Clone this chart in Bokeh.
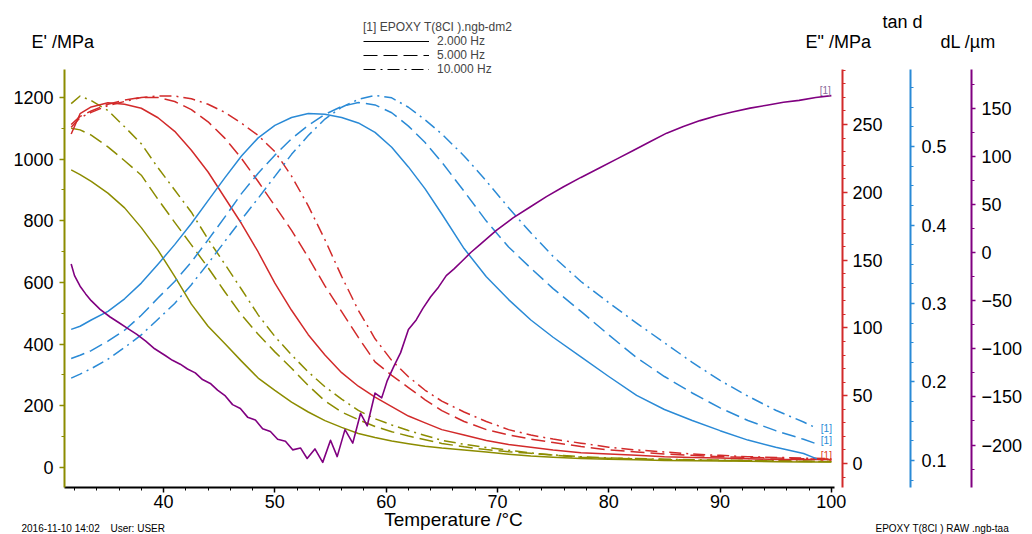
from bokeh.plotting import figure
from bokeh.layouts import column
from bokeh.models import Range1d, LinearAxis, FixedTicker, Label, Legend, LegendItem
from bokeh.embed import file_html
from bokeh.resources import INLINE

# ---------------- data ----------------
T = [31.7, 32.5, 33.5, 35, 36.5, 38, 39.5, 41, 42.5, 44, 45.5, 47, 48.5, 50, 51.5,
     53, 54.5, 56, 57.5, 59, 60.5, 62, 63.5, 65, 67, 69, 71, 73, 75, 77.5, 80,
     82.5, 85, 87.5, 90, 92.5, 95, 97.5, 100]
T_tan = [31.7, 32.5, 33.5, 35, 36.5, 38, 39.5, 41, 42.5, 44, 45.5, 47, 48.5, 50, 51.5,
         53, 54.5, 56, 57.5, 59, 60.5, 62, 63.5, 65, 67, 69, 71, 73, 75, 77.5, 80,
         82.5, 85, 87.5, 90, 92.5, 95, 97.5, 98.7]

# E' /MPa
E1_2hz = [965, 950, 928, 890, 842, 778, 705, 620, 530, 458, 402, 345, 290, 250, 212,
          180, 152, 130, 110, 97, 86, 77, 69, 63, 57, 50, 43, 37, 33, 29, 27,
          25, 23, 22, 21, 20, 19, 18, 18]
E1_5hz = [1100, 1095, 1078, 1040, 995, 948, 870, 795, 722, 648, 570, 495, 432, 375, 322,
          266, 216, 180, 155, 133, 116, 102, 90, 78, 67, 58, 51, 46, 40, 33, 30,
          28, 26, 24, 23, 22, 21, 20, 19]
E1_10hz = [1180, 1205, 1190, 1158, 1105, 1050, 972, 900, 828, 740, 660, 578, 495, 425, 365,
           310, 262, 222, 185, 158, 138, 120, 104, 88, 75, 65, 56, 47, 41, 35, 31,
           29, 27, 25, 24, 23, 22, 21, 20]
# E'' /MPa
E2_2hz = [243, 258, 263, 266, 265, 262, 255, 245, 231, 215, 196, 177, 156, 133, 113,
          95, 80, 67, 57, 49, 42, 35, 30, 25, 21, 17, 14, 12, 10, 8, 7,
          6, 5, 4.5, 4, 3.5, 3, 3, 3]
E2_5hz = [250, 256, 260, 265, 268, 270, 270, 267, 261, 252, 240, 225, 208, 190, 172,
          152, 131, 112, 93, 75, 65, 56, 47, 39, 31, 25, 21, 18, 15.5, 12.5, 10,
          8.5, 7, 6, 5, 4.5, 4, 3.5, 3]
E2_10hz = [248, 255, 259, 264, 267, 270, 271, 271, 269, 265, 259, 251, 242, 230, 212,
           190, 165, 138, 113, 92, 76, 64, 54, 46, 38, 31, 25, 21, 18, 15, 12,
           10, 8.5, 7, 6, 5, 4.5, 4, 3.5]
# tan d
TAN_2hz = [0.267, 0.271, 0.279, 0.290, 0.306, 0.326, 0.350, 0.375, 0.402, 0.431, 0.460,
           0.488, 0.511, 0.527, 0.537, 0.542, 0.541, 0.537, 0.530, 0.518, 0.499, 0.474,
           0.446, 0.414, 0.370, 0.334, 0.305, 0.279, 0.257, 0.232, 0.207, 0.183, 0.165,
           0.151, 0.138, 0.126, 0.117, 0.109, 0.102]
TAN_5hz = [0.230, 0.234, 0.240, 0.252, 0.266, 0.285, 0.307, 0.328, 0.353, 0.381, 0.410,
           0.440, 0.466, 0.489, 0.510, 0.527, 0.541, 0.551, 0.556, 0.553, 0.543, 0.526,
           0.505, 0.480, 0.443, 0.405, 0.372, 0.345, 0.319, 0.290, 0.260, 0.231, 0.207,
           0.186, 0.167, 0.151, 0.138, 0.127, 0.121]
TAN_10hz = [0.205, 0.210, 0.217, 0.229, 0.244, 0.260, 0.280, 0.300, 0.324, 0.351, 0.379,
            0.407, 0.434, 0.462, 0.490, 0.514, 0.535, 0.550, 0.560, 0.565, 0.562, 0.550,
            0.534, 0.516, 0.488, 0.456, 0.422, 0.390, 0.360, 0.328, 0.301, 0.275, 0.250,
            0.225, 0.202, 0.182, 0.164, 0.149, 0.141]
# dL /um
T_dl = [31.7, 32.0, 32.5, 33.0, 33.5, 34.3, 35.2, 36.0, 36.8, 37.6, 38.4, 39.2, 40.15,
        40.8, 41.5, 42.15, 42.85, 43.5, 44.2, 44.85, 45.55, 46.2, 46.9, 47.55, 48.25,
        48.9, 49.6, 50.25, 50.95, 51.6, 52.3, 52.9, 53.6, 54.3, 55.0, 55.6, 56.3, 57.0,
        57.7, 58.3, 59.0, 59.6, 60.1, 60.7, 61.3, 62.0, 62.7, 63.3, 64.0, 64.7, 65.4,
        66.1, 66.9, 67.6, 68.4, 69.2, 69.9, 71.4, 72.9, 74.4, 75.9, 77.5, 79.2, 80.7,
        82.2, 83.7, 85.2, 86.7, 88.2, 89.7, 91.1, 92.7, 94.2, 95.7, 97.1, 98.6, 100.0]
DL = [-12, -24, -35, -43, -50, -59, -67, -73, -79, -85, -92, -100, -107,
      -112, -116, -121, -125, -132, -136, -143, -149, -158, -162, -171, -174,
      -183, -186, -194, -196, -205, -203, -214, -204, -218, -195, -212, -184, -198,
      -167, -180, -146, -151, -133, -118, -104, -80, -70, -58, -46, -36, -24,
      -17, -8, 0, 8, 16, 23, 36, 47, 58, 68, 78, 88, 97,
      106, 115, 124, 131, 137, 142, 146, 150, 153, 156, 158, 161, 163]

X_TICKS = [40, 50, 60, 70, 80, 90, 100]
EP_TICKS = [0, 200, 400, 600, 800, 1000, 1200]
EPP_TICKS = [0, 50, 100, 150, 200, 250]
TAN_TICKS = [0.1, 0.2, 0.3, 0.4, 0.5]
DL_TICKS = [-200, -150, -100, -50, 0, 50, 100, 150]
FREQ_LABELS = ["2.000 Hz", "5.000 Hz", "10.000 Hz"]
LEGEND_TITLE = "[1] EPOXY T(8CI ).ngb-dm2"

# ---------------- styling ----------------
FONT = "Liberation Sans"
OLIVE = "#8c8c00"
RED = "#d22a2a"
BLUE = "#2a8ad6"
PURPLE = "#800080"
DASHES = ["solid", "14 6", "12 5 2 5"]
TICK_FS = "18px"

W, H = 1032, 534
X0, X1 = 31.1, 101.0
EP0, EP1 = -64.9, 1290.8
EPP0, EPP1 = -17.7, 290.6
TAN0, TAN1 = 0.0656, 0.5981
DL0, DL1 = -244.1, 190.1

# frame in page px
FL, FR, FT, FB = 64, 842, 69, 487

p = figure(width=W, height=H, output_backend="svg", toolbar_location=None,
           x_range=Range1d(X0, X1), y_range=Range1d(EP0, EP1),
           min_border_left=FL, min_border_right=W - FR, min_border_top=FT,
           min_border_bottom=H - FB, outline_line_color=None,
           background_fill_color="white", border_fill_color="white")
p.frame_align = False
p.grid.visible = False
p.extra_y_ranges = {"epp": Range1d(EPP0, EPP1), "tan": Range1d(TAN0, TAN1),
                    "dl": Range1d(DL0, DL1)}


def style_axis(ax, color, tick_out=5, standoff=5):
    ax.axis_line_color = color
    ax.axis_line_width = 2
    ax.major_tick_line_color = color
    ax.minor_tick_line_color = color
    ax.major_tick_line_width = 1.5
    ax.minor_tick_line_width = 1
    ax.major_tick_in = 0
    ax.major_tick_out = tick_out
    ax.minor_tick_in = 0
    ax.minor_tick_out = 3
    ax.major_label_standoff = standoff
    ax.major_label_text_font = FONT
    ax.major_label_text_font_size = TICK_FS
    ax.major_label_text_color = "black"


def pad(ax, extra):
    ax.axis_label = " "
    ax.axis_label_text_font_size = "1px"
    ax.axis_label_standoff = extra


xa = p.xaxis[0]
xa.ticker = FixedTicker(ticks=X_TICKS, minor_ticks=list(range(32, 101, 2)))
style_axis(xa, "black", tick_out=5, standoff=2)
xa.bounds = (X0, 100.3)

ya = p.yaxis[0]
ya.ticker = FixedTicker(ticks=EP_TICKS, minor_ticks=list(range(0, 1300, 100)))
style_axis(ya, OLIVE, tick_out=5, standoff=6)

ax_epp = LinearAxis(y_range_name="epp",
                    ticker=FixedTicker(ticks=EPP_TICKS, minor_ticks=list(range(-10, 291, 10))))
style_axis(ax_epp, RED, tick_out=5, standoff=5)
pad(ax_epp, 21)
p.add_layout(ax_epp, "right")

ax_tan = LinearAxis(y_range_name="tan",
                    ticker=FixedTicker(ticks=TAN_TICKS,
                                       minor_ticks=[0.075 + 0.025 * i for i in range(21)]))
style_axis(ax_tan, BLUE, tick_out=4, standoff=7)
pad(ax_tan, 18)
p.add_layout(ax_tan, "right")

ax_dl = LinearAxis(y_range_name="dl",
                   ticker=FixedTicker(ticks=DL_TICKS, minor_ticks=list(range(-225, 190, 25))))
style_axis(ax_dl, PURPLE, tick_out=4, standoff=6)
p.add_layout(ax_dl, "right")

# ---------------- curves ----------------
for vals, dash in zip([E1_2hz, E1_5hz, E1_10hz], DASHES):
    p.line(T, vals, line_color=OLIVE, line_width=1.5, line_dash=dash, line_join="round")
for vals, dash in zip([E2_2hz, E2_5hz, E2_10hz], DASHES):
    p.line(T, vals, line_color=RED, line_width=1.5, line_dash=dash, line_join="round",
           y_range_name="epp")
for vals, dash in zip([TAN_2hz, TAN_5hz, TAN_10hz], DASHES):
    p.line(T_tan, vals, line_color=BLUE, line_width=1.5, line_dash=dash, line_join="round",
           y_range_name="tan")
p.line(T_dl, DL, line_color=PURPLE, line_width=1.6, line_join="round", y_range_name="dl")


# end-of-curve markers "[1]" (inside the frame)
def frame_label(text, x, y, rng, color):
    p.add_layout(Label(x=x, y=y, y_range_name=rng, text=text, text_font=FONT,
                       text_font_size="10px", text_align="center",
                       text_baseline="middle", text_color=color))


frame_label("[1]", 99.45, 168, "dl", "#8a6a9a")
frame_label("[1]", 99.55, 0.141, "tan", BLUE)
frame_label("[1]", 99.55, 0.125, "tan", BLUE)
frame_label("[1]", 99.55, 6.0, "epp", "#e0401a")

# ---------------- overlay figure for texts outside the frame ----------------
q = figure(width=W, height=H, output_backend="svg", toolbar_location=None,
           x_range=Range1d(0, W), y_range=Range1d(H, 0),
           x_axis_type=None, y_axis_type=None, min_border=0,
           outline_line_color=None, background_fill_color=None,
           border_fill_color=None)
q.frame_align = False
q.grid.visible = False
q.margin = (-H, 0, 0, 0)


def page_text(text, px, py, size="18px", align="left"):
    q.add_layout(Label(x=px, y=py, text=text, text_font=FONT, text_font_size=size,
                       text_align=align, text_baseline="middle", text_color="black"))


page_text("E' /MPa", 31, 41)
page_text('E" /MPa', 805, 41)
page_text("tan d", 882, 21)
page_text("dL /\u00b5m", 940, 41)
page_text("Temperature /\u00b0C", 453, 519, size="19px", align="center")
page_text("2016-11-10 14:02", 21, 528, size="10px")
page_text("User: USER", 110, 528, size="10px")
page_text("EPOXY T(8CI ) RAW .ngb-taa", 875, 528, size="10px")

NAN = float("nan")
items = []
for lab, dash in zip(FREQ_LABELS, DASHES):
    r = q.line(x=[NAN], y=[NAN], line_color="black", line_width=1, line_dash=dash)
    items.append(LegendItem(label=lab, renderers=[r]))
leg = Legend(items=items, location=(363, H - 76), title=LEGEND_TITLE,
             title_text_font=FONT, title_text_font_size="12px",
             title_text_font_style="normal", title_standoff=0,
             label_text_font=FONT, label_text_font_size="12px",
             glyph_width=66, glyph_height=12, label_height=12, label_standoff=8,
             spacing=0, padding=0, margin=0, border_line_alpha=0,
             background_fill_alpha=0)
q.add_layout(leg, "center")

page = column(p, q, spacing=0)
open("out.html", "w").write(file_html(page, INLINE))
